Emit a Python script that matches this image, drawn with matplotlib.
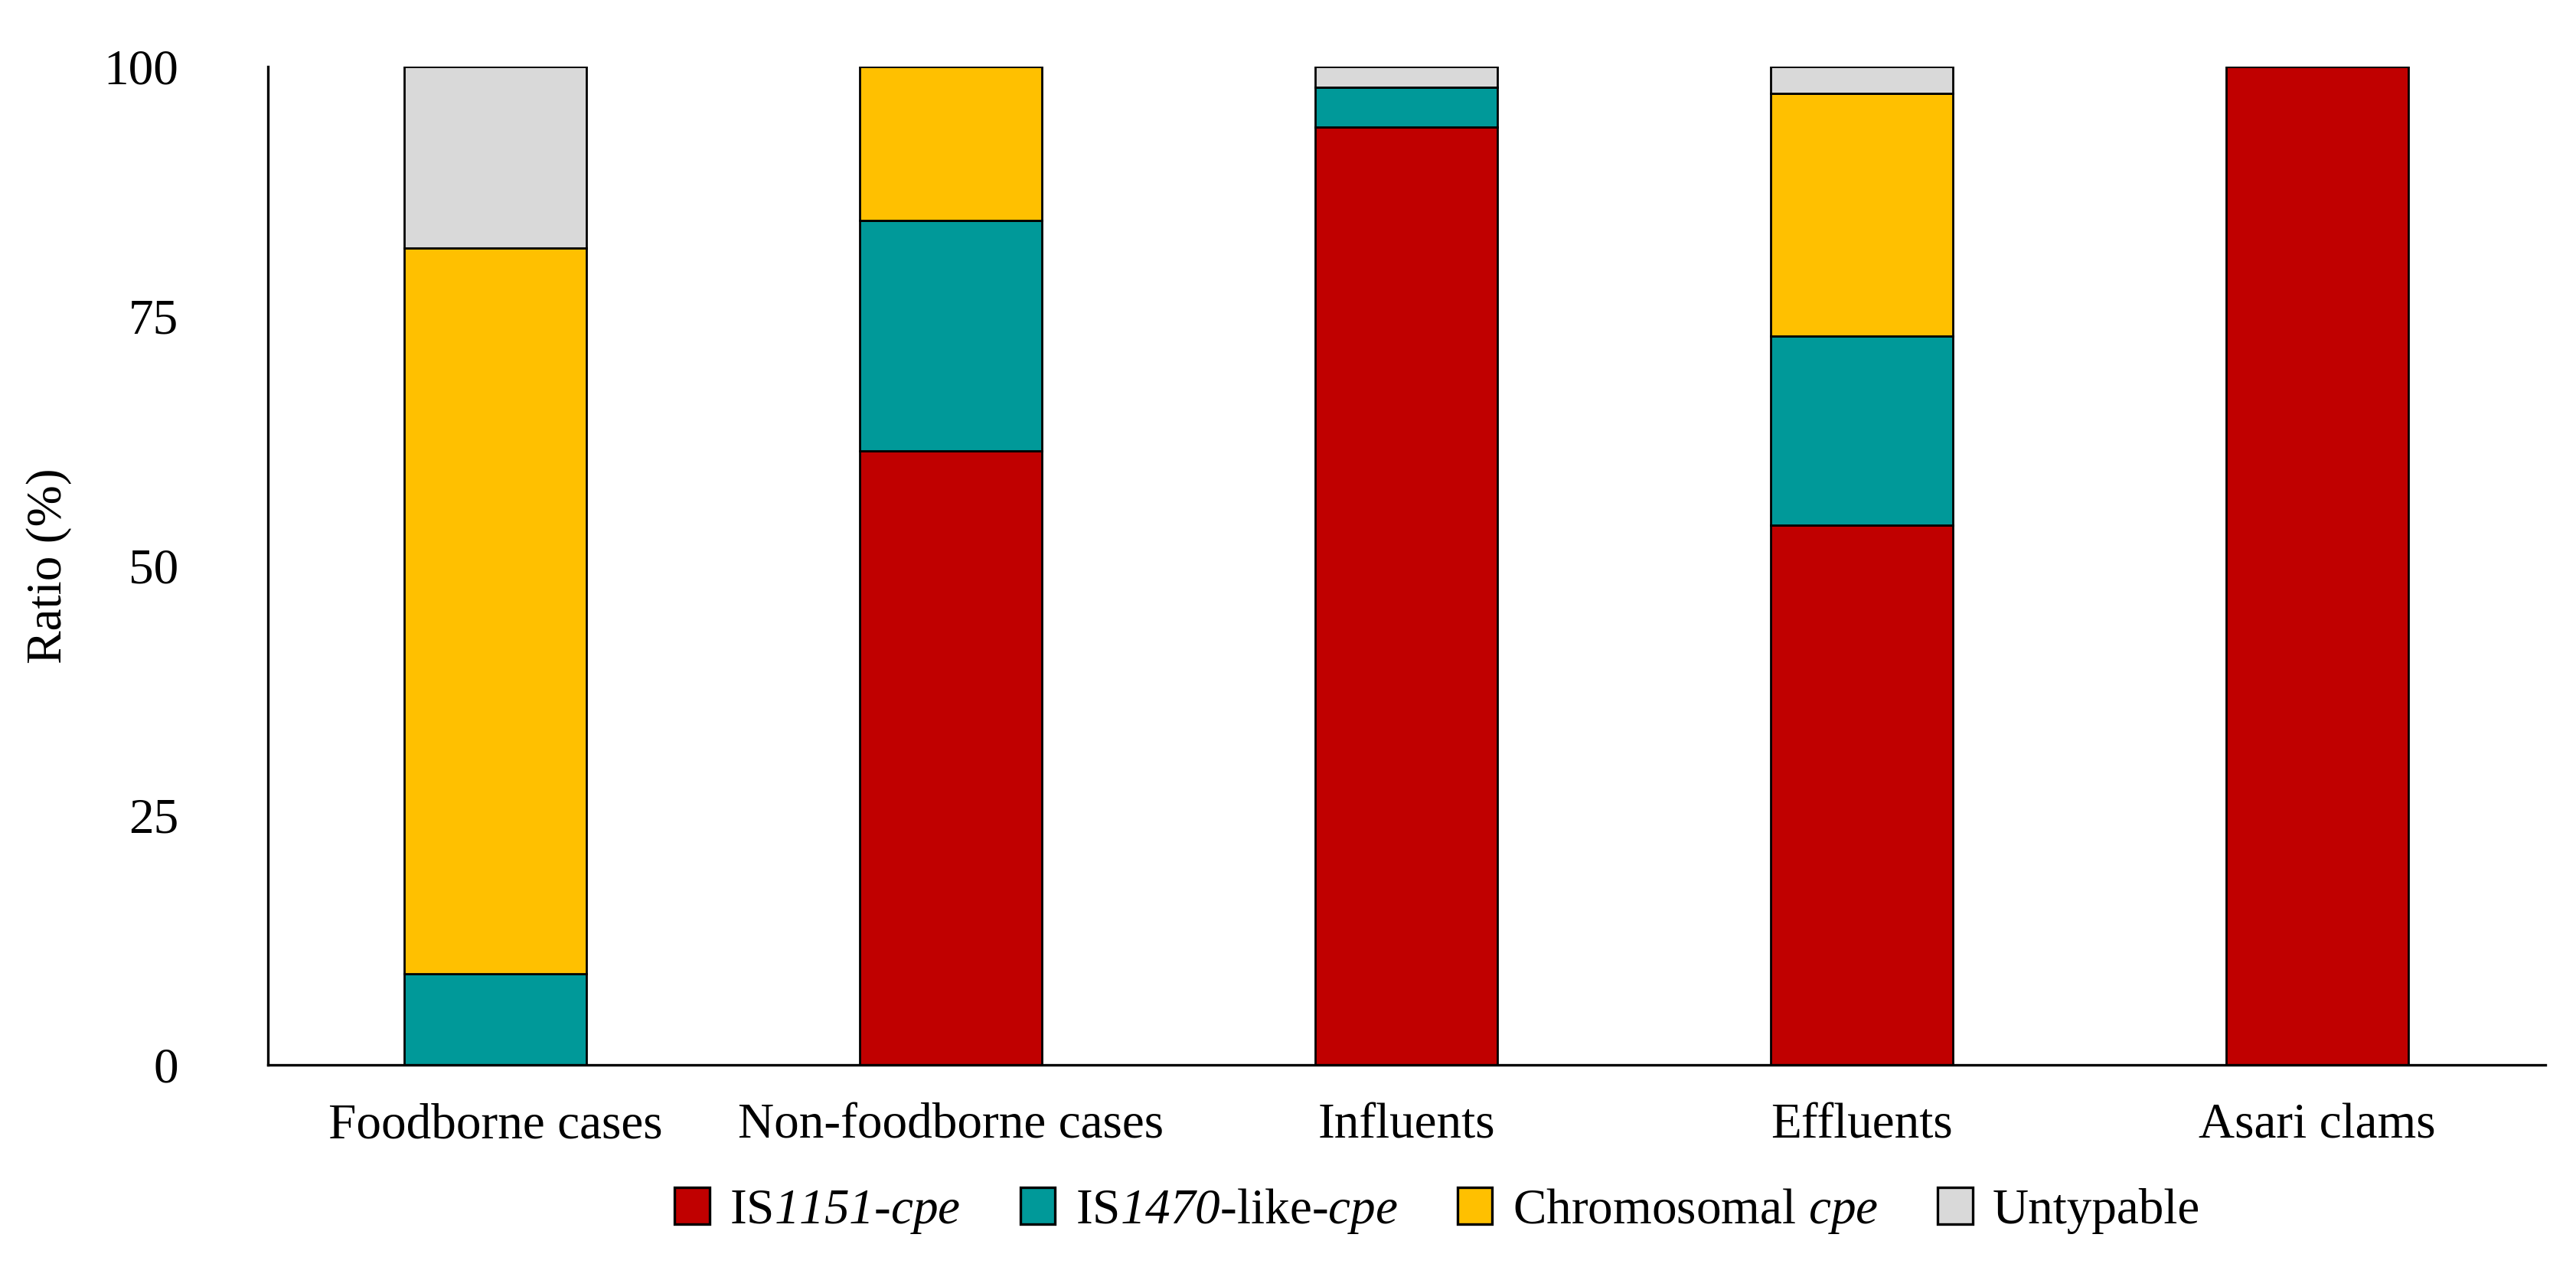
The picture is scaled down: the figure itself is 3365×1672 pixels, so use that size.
import matplotlib
matplotlib.use("Agg")
import matplotlib.pyplot as plt
from matplotlib.patches import Patch
import numpy as np

categories = ["Foodborne cases", "Non-foodborne cases", "Influents", "Effluents", "Asari clams"]
is1151 = [0.0, 61.5, 93.9, 54.1, 100.0]
is1470 = [9.1, 23.1, 4.0, 18.9, 0.0]
chromosomal = [72.7, 15.4, 0.0, 24.3, 0.0]
untypable = [18.2, 0.0, 2.1, 2.7, 0.0]
yticks = [0, 25, 50, 75, 100]

series_labels = ["IS$1151$-$cpe$",
                 "IS$1470$-like-$cpe$",
                 "Chromosomal $cpe$",
                 "Untypable"]
colors = ["#C00000", "#009999", "#FFC000", "#D9D9D9"]

plt.rcParams["font.family"] = ["Liberation Serif", "DejaVu Serif"]
plt.rcParams["mathtext.fontset"] = "custom"
plt.rcParams["mathtext.rm"] = "Liberation Serif:italic"
plt.rcParams["mathtext.it"] = "Liberation Serif:italic"

FS = 23.5
fig = plt.figure(figsize=(16.825, 8.36), dpi=200)
ax = fig.add_axes([0.104, 0.168, 0.884, 0.780])

x = np.arange(len(categories))
bottom = np.zeros(len(categories))
for vals, col, lab in zip([is1151, is1470, chromosomal, untypable], colors, series_labels):
    v = np.array(vals)
    ax.bar(x, v, width=0.4, bottom=bottom, color=col, edgecolor="black", linewidth=1.0, label=lab)
    bottom += v

ax.set_xlim(-0.5, 4.5)
ax.set_ylim(0, 100)
ax.set_yticks(yticks)
ax.set_xticks(x)
ax.set_xticklabels(categories)
ax.tick_params(axis="both", length=0, labelsize=FS)
ax.tick_params(axis="y", pad=42)
ax.tick_params(axis="x", pad=18)
for s in ["top", "right"]:
    ax.spines[s].set_visible(False)
for s in ["left", "bottom"]:
    ax.spines[s].set_linewidth(1.2)
ax.set_ylabel("Ratio (%)", fontsize=FS, labelpad=15)

handles = [Patch(facecolor=c, edgecolor="black", linewidth=1.2) for c in colors]
fig.legend(handles, series_labels, loc="center", bbox_to_anchor=(0.558, 0.054), ncol=4,
           frameon=False, fontsize=FS, handlelength=0.7, handleheight=0.75,
           handletextpad=0.4, columnspacing=1.2)

fig.savefig("out.png", dpi=200, facecolor="white")
